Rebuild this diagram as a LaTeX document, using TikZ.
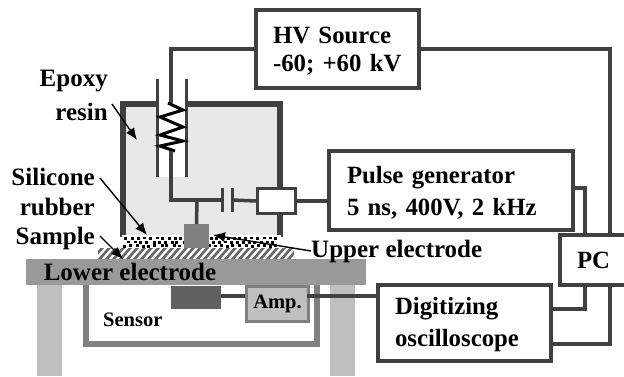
\documentclass[tikz,border=0pt]{standalone}
\usepackage{fontspec}
\setmainfont{Liberation Serif}
\usetikzlibrary{arrows.meta}
\definecolor{wireGray}{HTML}{404040}
\tikzset{
	hvbox/.style={
		draw=wireGray,
		fill=white,
		line width=3.3pt,
		anchor=north west,
		align=left,
		inner ysep=0pt,
		inner xsep=17pt,
		outer sep=0pt,
		font=\fontsize{24.8}{#1}\selectfont\bfseries
	},
	hvbox/.default=32,
	hvLines/.style={execute at begin node=\rule{0pt}{21pt}},
	hvLabel/.style={font=\fontsize{25}{31}\selectfont\bfseries, inner sep=0pt, align=right},
	hvSmall/.style={font=\fontsize{20.5}{22}\selectfont\bfseries, inner sep=0pt},
	hvWire/.style={draw=wireGray, line width=3.5pt},
	hvWall/.style={draw=wireGray, line width=6pt},
	hvPlate/.style={draw=wireGray, line width=3pt},
	hvPointer/.style={-{Latex[length=12pt,width=10pt]}, line width=1.4pt, black},
	hvBlock/.style={anchor=north west, inner sep=0pt, outer sep=0pt}
}
\begin{document}
\begin{tikzpicture}[x=1pt,y=-1pt]
			\useasboundingbox (0,0) rectangle (624,376);
			\pgfmathsetseed{7}

			% Epoxy case
			\node[hvBlock, fill=black!9, minimum width=154pt, minimum height=135pt] (epoxy) at (125,102) {};
			\node[hvBlock, fill=white, minimum width=28pt, minimum height=100pt] (channel) at (158,77) {};
			\coordinate (wallL) at (123,237);
			\coordinate (wallR) at (280,237);
			\draw[hvWall] (157,104) -- (123,104) -- (wallL);
			\draw[hvWall] (186,104) -- (280,104) -- (wallR);
			\draw[hvPlate] (157.5,79) -- (157.5,177);
			\draw[hvPlate] (186,79) -- (186,177);

			% Table
			\node[hvBlock, fill=black!25, minimum width=25pt, minimum height=92pt] (legL) at (37,284) {};
			\node[hvBlock, fill=black!25, minimum width=25pt, minimum height=92pt] (legR) at (330,284) {};
			\node[hvBlock, fill=white, minimum width=196pt, minimum height=12pt] (sample) at (98,248) {};
			\begin{scope}
				\clip (98,248) rectangle (294,260);
				\foreach \x in {90,97,...,300}
					\draw[black!60, line width=2.6pt] (\x,262) -- (\x+14,246);
			\end{scope}
			\node[hvBlock, fill=white, minimum width=159pt, minimum height=13pt] (silicone) at (122,235) {};
			\foreach \x in {124,130,...,278}
				\fill (\x+rnd*2,236.5+rnd) rectangle ++(3,2.8);
			\foreach \x in {127,133,...,275}
				\fill (\x+rnd*2,240.5+rnd) rectangle ++(3,2.8);
			\foreach \x in {123,129,...,277}
				\fill (\x+rnd*2,244+rnd) rectangle ++(3,2.8);
			\node[hvBlock, fill=black!40, minimum width=340pt, minimum height=26pt] (lower) at (26,259) {};
			\node[hvLabel] at (130,272) {Lower electrode};

			% Sensor
			\draw[draw=black!50, line width=6pt] (86,285) -- (86,344) -- (317,344) -- (317,285);
			\node[hvBlock, fill=black!62, minimum width=50pt, minimum height=23pt] (sensor) at (171,286) {};
			\node[hvSmall, anchor=west] (sensorText) at (103,320) {Sensor};
			\node[draw=black!50, fill=black!25, line width=3pt, hvSmall, anchor=north west, minimum width=62pt, minimum height=35pt] (amp) at (245,285) {Amp.};

			% Boxes
			\node[hvbox=28, hvLines, minimum width=163pt, minimum height=78pt, text width=129pt] (hv) at (256,10) {HV Source\\-60; +60 kV};
			\node[hvbox, hvLines, minimum width=244pt, minimum height=79pt, text width=208pt] (pulse) at (329,151) {Pulse generator\\5 ns, 400V, 2 kHz};
			\node[hvbox, hvLines, minimum width=173pt, minimum height=76pt, text width=139pt] (scope) at (378,285) {Digitizing\\oscilloscope};
			\node[hvbox, minimum width=70pt, minimum height=50pt, text width=36pt] (pc) at (560,235) {PC};
			\node[draw=wireGray, fill=white, line width=3pt, anchor=north west, inner sep=0pt, minimum width=38pt, minimum height=25pt] (match) at (256,187) {};

			% Electrode and capacitor
			\node[hvBlock, fill=black!50, minimum width=25pt, minimum height=24pt] (upper) at (184,224) {};
			\coordinate (capL) at (222,200);
			\coordinate (capR) at (232,200);
			\coordinate (spring) at (171,151);
			\coordinate (upperTip) at (213,235);
			\draw[hvPlate] (222,188) -- (222,212);
			\draw[hvPlate] (232,188) -- (232,212);

			% Flows
			\draw[hvWire] (hv.west) -| (171,103);
			\draw[black, line width=3pt] (168,103) -- (183,110) -- (160,117) -- (183,127) -- (160,135) -- (183,141) -- (160,146) -- (175,151);
			\draw[hvWire] (spring) |- (capL);
			\draw[hvWire] (197,200) -- (upper.north);
			\draw[hvWire] (capR) -- (match.west);
			\draw[hvWire] (match.east) -- (match.east -| pulse.west);
			\draw[hvWire] (hv.east) -| (610,235);
			\draw[hvWire] (610,285) |- (551,344);
			\draw[hvWire] (573,188) -| (585,235);
			\draw[hvWire] (585,285) |- (551,309);
			\draw[hvWire] (221,296) -- (245,296);
			\draw[hvWire] (307,296) -- (378,296);

			% Labels
			\node[hvLabel, anchor=east] (epoxyText) at (108,81) {Epoxy};
			\node[hvLabel, anchor=east] (resinText) at (108,112) {resin};
			\node[hvLabel, anchor=east] (siliconeText) at (95,177) {Silicone};
			\node[hvLabel, anchor=east] (rubberText) at (95,207) {rubber};
			\node[hvLabel, anchor=east] (sampleText) at (95,238) {Sample};
			\node[hvLabel, anchor=west] (upperText) at (311,251) {Upper electrode};
			\draw[hvPointer] (112,104) -- (137,140);
			\draw[hvPointer] (100,178) -- (147,235);
			\draw[hvPointer] (100,236) -- (123,259);
			\draw[hvPointer] (upperText.west) -- (upperTip);

		\end{tikzpicture}
\end{document}
